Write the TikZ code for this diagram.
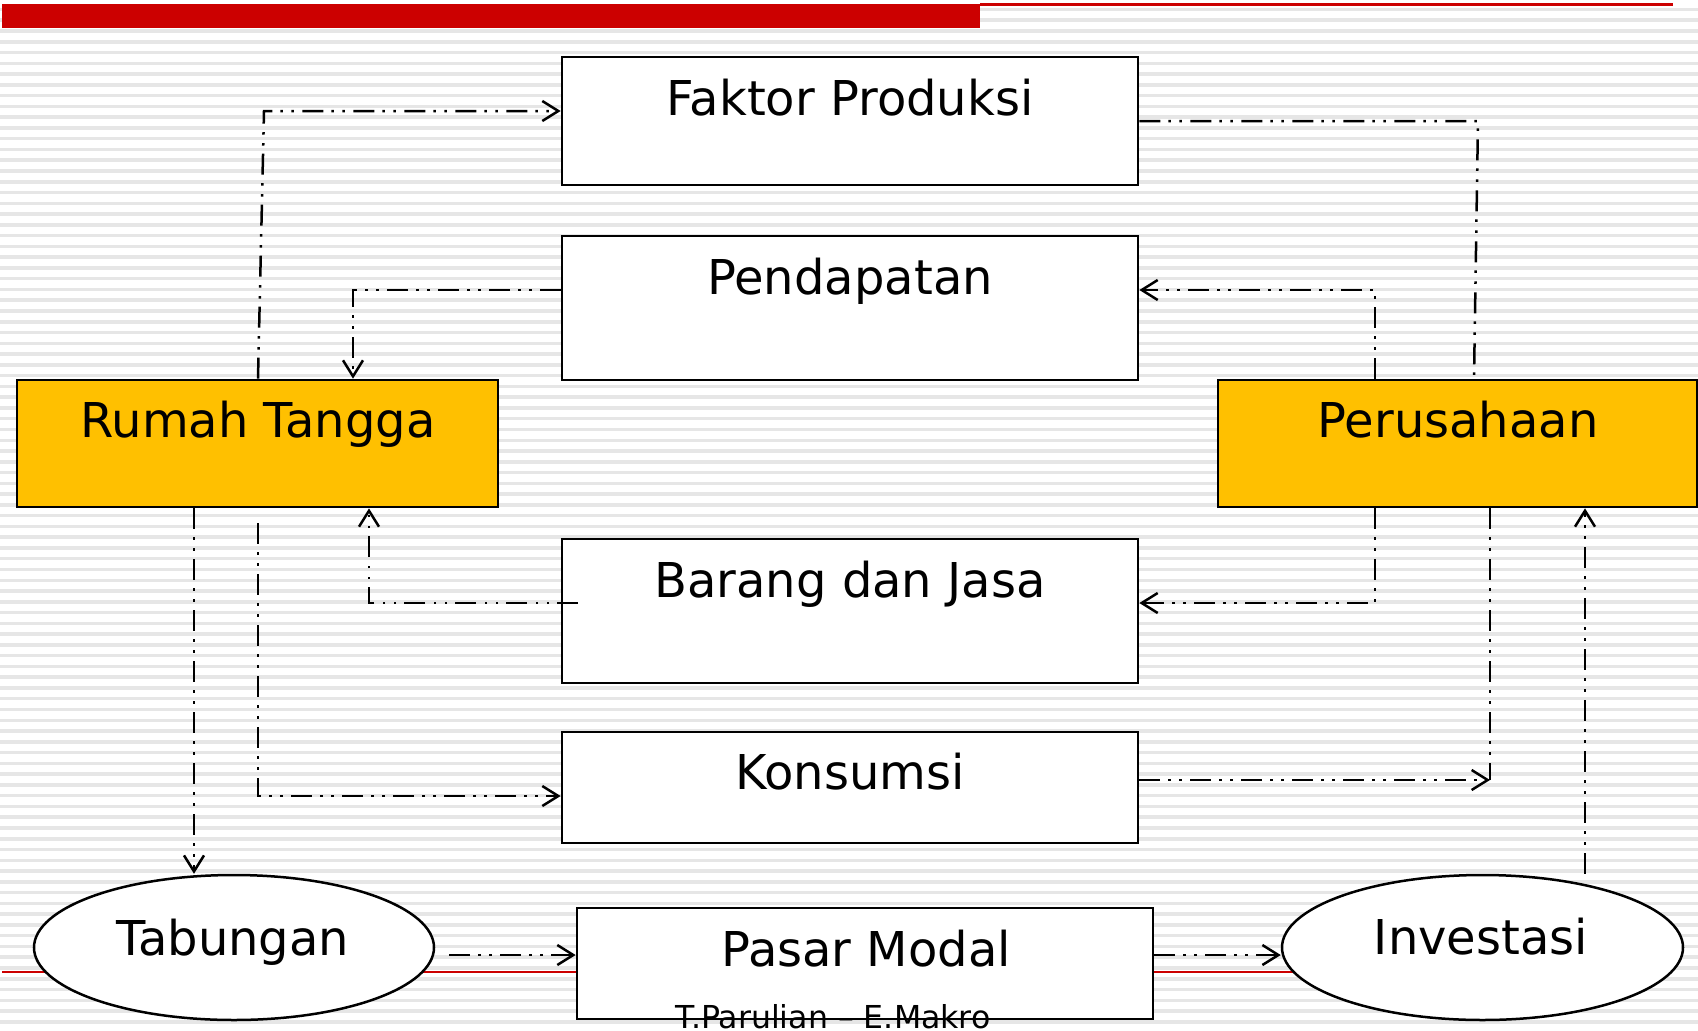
\documentclass[tikz,border=0pt]{standalone}
\usepackage{fontspec}
\setmainfont{DejaVu Sans}
\usetikzlibrary{arrows.meta,shapes.geometric}
\definecolor{topred}{HTML}{CC0000}
\definecolor{boxorange}{HTML}{FFC000}
\definecolor{stripecol}{HTML}{E6E6E6}
\begin{document}
\begin{tikzpicture}[x=1pt,y=-1pt,
  box/.style={draw=black,line width=2.7pt,fill=white,rectangle,inner sep=0pt},
  orangebox/.style={box,fill=boxorange},
  oval/.style={draw=black,line width=2.5pt,fill=white,ellipse,inner sep=0pt},
  lbl/.style={anchor=base,inner sep=0pt,font=\fontsize{48}{57}\selectfont},
  footlbl/.style={anchor=base,inner sep=0pt,font=\fontsize{31.6}{38}\selectfont},
  flow/.style={line width=2.5pt,dash pattern=on 21pt off 8pt on 2.5pt off 8.5pt on 2.5pt off 8.5pt},
  arr/.style={flow,-{Straight Barb[length=16pt,width=20pt,line width=2.5pt]}}
]
\useasboundingbox (0,0) rectangle (1698,1031);
\fill[white] (0,0) rectangle (1698,1031);
% background stripes
\foreach \k in {0,...,95}
  \draw[stripecol,line width=3.5pt] (0,{9.45+\k*10.77}) -- (1698,{9.45+\k*10.77});
% red bars
\fill[topred] (2,4) rectangle (980,28);
\draw[topred,line width=2.7pt] (980,4.7) -- (1673,4.7);
\draw[topred,line width=2.5pt] (2,972) -- (1400,972);

% boxes
\node[box,minimum width=576pt,minimum height=128pt] (fp) at (850,121) {};
\node[box,minimum width=576pt,minimum height=144pt] (pd) at (850,308) {};
\node[orangebox,minimum width=481pt,minimum height=127pt] (rt) at (257.5,443.5) {};
\node[orangebox,minimum width=479pt,minimum height=127pt] (pe) at (1457.5,443.5) {};
\node[box,minimum width=576pt,minimum height=144pt] (bj) at (850,611) {};
\node[box,minimum width=576pt,minimum height=111pt] (ks) at (850,787.5) {};
\node[box,minimum width=576pt,minimum height=111pt] (pm) at (865,963.5) {};
\node[oval,minimum width=400pt,minimum height=145pt] (tb) at (234,947.5) {};
\node[oval,minimum width=401pt,minimum height=145pt] (iv) at (1482.5,947.5) {};

% labels
\node[lbl] (fpt) at (850,115) {Faktor Produksi};
\node[lbl] (pdt) at (850,294) {Pendapatan};
\node[lbl] (rtt) at (258,437) {Rumah Tangga};
\node[lbl] (pet) at (1458,437) {Perusahaan};
\node[lbl] (bjt) at (850,597) {Barang dan Jasa};
\node[lbl] (kst) at (850,789) {Konsumsi};
\node[lbl] (pmt) at (866,966) {Pasar Modal};
\node[lbl] (tbt) at (233,955) {Tabungan};
\node[lbl] (ivt) at (1481,954) {Investasi};

% guide coordinates
\coordinate (xa) at (258,0);
\coordinate (xb) at (264,0);
\coordinate (xc) at (353,0);
\coordinate (xd) at (369,0);
\coordinate (xe) at (194,0);
\coordinate (xf) at (1375,0);
\coordinate (xg) at (1478,0);
\coordinate (xg2) at (1474,0);
\coordinate (xh) at (1490,0);
\coordinate (xi) at (1585,0);
\coordinate (ya) at (0,111);
\coordinate (yb) at (0,121);
\coordinate (yc) at (0,290);
\coordinate (yd) at (0,603);
\coordinate (ye) at (0,796);
\coordinate (yf) at (0,780);
\coordinate (yg) at (0,955);
\coordinate (bjin) at (578,603);
\coordinate (rtlow) at (258,523);
\coordinate (tbout) at (449,955);

% connectors
\draw[arr] (rt.north -| xa) -- (xb |- ya) -- (fp.west |- ya);
\draw[flow] (fp.east |- yb) -- (xg |- yb) -- (pe.north -| xg2);
\draw[arr] (pe.north -| xf) -- (xf |- yc) -- (pd.east |- yc);
\draw[arr] (pd.west |- yc) -- (xc |- yc) -- (rt.north -| xc);
\draw[arr] (pe.south -| xf) -- (xf |- yd) -- (bj.east |- yd);
\draw[arr] (bjin) -- (xd |- yd) -- (rt.south -| xd);
\draw[arr] (rt.south -| xe) -- (tb.north -| xe);
\draw[arr] (rtlow) -- (xa |- ye) -- (ks.west |- ye);
\draw[arr] (ks.east |- yf) -- (xh |- yf);
\draw[flow] (pe.south -| xh) -- (xh |- yf);
\draw[arr] (tbout) -- (pm.west |- yg);
\draw[arr] (pm.east |- yg) -- (iv.west |- yg);
\draw[arr] (iv.north -| xi) -- (pe.south -| xi);

% footer
\node[footlbl] (foot) at (833,1028) {T.Parulian – E.Makro};
\end{tikzpicture}
\end{document}
